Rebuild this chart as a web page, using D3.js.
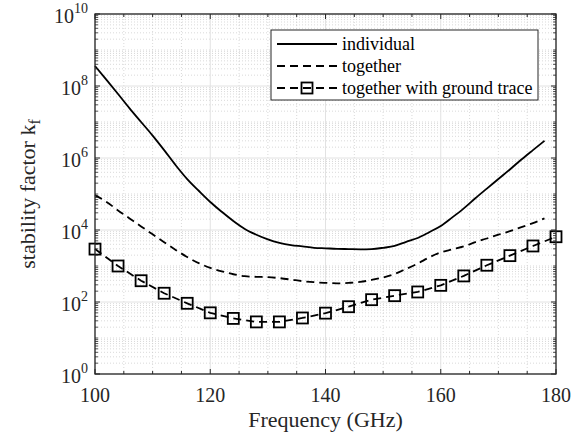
<!DOCTYPE html>
<html>
<head>
<meta charset="utf-8">
<script src="https://cdn.jsdelivr.net/npm/d3@7"></script>
<style>
  body { margin: 0; background: #fff; }
</style>
</head>
<body>
<div id="chart"></div>
<script>
// frequency grid of the two curves (GHz)
const freq = [100, 102, 104, 106, 108, 110, 112, 114, 116, 118, 120, 122, 124, 126, 128, 130, 132, 134, 136, 138,
              140, 142, 144, 146, 148, 150, 152, 154, 156, 158, 160, 162, 164, 166, 168, 170, 172, 174, 176, 178];
// stability factor, each element alone
const individual = [3.6e8, 1.48e8, 6.0e7, 2.4e7, 1.0e7, 4.2e6, 1.66e6, 6.3e5, 2.6e5, 1.23e5, 6.0e4, 3.2e4, 1.78e4, 1.07e4, 7400, 5500, 4400, 3800, 3500, 3200,
                    3100, 3000, 2950, 2900, 2950, 3200, 3600, 4700, 6000, 8700, 1.29e4, 2.24e4, 4.0e4, 7.6e4, 1.41e5, 2.6e5, 4.8e5, 9.1e5, 1.66e6, 3.0e6];
// stability factor, together
const together = [9.3e4, 6.0e4, 3.5e4, 2.1e4, 1.26e4, 7600, 4600, 2800, 1780, 1200, 890, 710, 590, 520, 500, 490, 460, 420, 380, 355,
                  340, 330, 340, 360, 410, 480, 600, 830, 1170, 1740, 2400, 2900, 3500, 4600, 5800, 7400, 9300, 1.2e4, 1.55e4, 2.1e4];
// together with ground trace (marker points)
const freqGT = [100, 104, 108, 112, 116, 120, 124, 128, 132, 136, 140, 144, 148, 152, 156, 160, 164, 168, 172, 176, 180];
const groundTrace = [2950, 1000, 390, 175, 92, 50, 35, 28, 28, 36, 49, 74, 116, 150, 190, 290, 530, 1050, 1940, 3600, 6500];

const xTicks = [100, 120, 140, 160, 180];
const yExp = [0, 2, 4, 6, 8, 10];
const legendNames = ["individual", "together", "together with ground trace"];

const width = 581, height = 436;
const marginTop = 14, marginRight = 25, marginBottom = 62, marginLeft = 95;
const axisCol = "#262626";
const serif = "'Liberation Serif'";

const svg = d3.select("#chart").append("svg")
    .attr("width", width)
    .attr("height", height)
    .attr("viewBox", [0, 0, width, height]);

const x = d3.scaleLinear([100, 180], [marginLeft, width - marginRight]);
const y = d3.scaleLog([1, 1e10], [height - marginBottom, marginTop]);

// minor ticks
const xMinor = d3.range(100, 181, 5).filter(v => xTicks.indexOf(v) < 0);
let yMinor = [];
for (let e = 0; e < 10; e++) {
    for (let m = 1; m < 10; m++) {
        if (m == 1 && e % 2 == 0) continue;
        yMinor.push(m * Math.pow(10, e));
    }
}

// grid
const grid = svg.append("g").attr("class", "grid");
grid.selectAll(".xmin").data(xMinor).join("line")
    .attr("x1", d => x(d)).attr("x2", d => x(d))
    .attr("y1", y(1)).attr("y2", y(1e10))
    .attr("stroke", "#c8c8c8").attr("stroke-width", 0.7)
    .attr("stroke-dasharray", "1,2");
grid.selectAll(".ymin").data(yMinor).join("line")
    .attr("x1", x(100)).attr("x2", x(180))
    .attr("y1", d => y(d)).attr("y2", d => y(d))
    .attr("stroke", "#c8c8c8").attr("stroke-width", 0.7)
    .attr("stroke-dasharray", "1,2");
grid.selectAll(".xmaj").data(xTicks).join("line")
    .attr("x1", d => x(d)).attr("x2", d => x(d))
    .attr("y1", y(1)).attr("y2", y(1e10))
    .attr("stroke", "#e2e2e2").attr("stroke-width", 1);
grid.selectAll(".ymaj").data(yExp).join("line")
    .attr("x1", x(100)).attr("x2", x(180))
    .attr("y1", d => y(Math.pow(10, d))).attr("y2", d => y(Math.pow(10, d)))
    .attr("stroke", "#e2e2e2").attr("stroke-width", 1);

// curves
const line = d3.line().x(d => x(d[0])).y(d => y(d[1])).curve(d3.curveMonotoneX);
svg.append("path")
    .datum(d3.zip(freq, individual))
    .attr("d", line)
    .attr("fill", "none").attr("stroke", "#000").attr("stroke-width", 1.8);
svg.append("path")
    .datum(d3.zip(freq, together))
    .attr("d", line)
    .attr("fill", "none").attr("stroke", "#000").attr("stroke-width", 1.8)
    .attr("stroke-dasharray", "8,5");
svg.append("path")
    .datum(d3.zip(freqGT, groundTrace))
    .attr("d", d3.line().x(d => x(d[0])).y(d => y(d[1])))
    .attr("fill", "none").attr("stroke", "#000").attr("stroke-width", 1.8)
    .attr("stroke-dasharray", "8,5");
const ms = 11;
svg.append("g").selectAll("rect").data(d3.zip(freqGT, groundTrace)).join("rect")
    .attr("x", d => x(d[0]) - ms / 2)
    .attr("y", d => y(d[1]) - ms / 2)
    .attr("width", ms).attr("height", ms)
    .attr("fill", "none").attr("stroke", "#000").attr("stroke-width", 1.8);

// axes box + ticks (MATLAB style, inward, both sides)
const ax = svg.append("g").attr("stroke", axisCol).attr("fill", "none");
ax.append("rect")
    .attr("x", x(100)).attr("y", y(1e10))
    .attr("width", x(180) - x(100)).attr("height", y(1) - y(1e10))
    .attr("stroke-width", 1.3);
[y(1), y(1e10)].forEach((yy, i) => {
    const s = i == 0 ? -1 : 1;
    ax.selectAll(null).data(xTicks).join("line")
        .attr("x1", d => x(d)).attr("x2", d => x(d))
        .attr("y1", yy).attr("y2", yy + s * 5);
    ax.selectAll(null).data(xMinor).join("line")
        .attr("x1", d => x(d)).attr("x2", d => x(d))
        .attr("y1", yy).attr("y2", yy + s * 3);
});
[x(100), x(180)].forEach((xx, i) => {
    const s = i == 0 ? 1 : -1;
    ax.selectAll(null).data(yExp).join("line")
        .attr("x1", xx).attr("x2", xx + s * 5)
        .attr("y1", d => y(Math.pow(10, d))).attr("y2", d => y(Math.pow(10, d)));
    ax.selectAll(null).data(yMinor).join("line")
        .attr("x1", xx).attr("x2", xx + s * 3)
        .attr("y1", d => y(d)).attr("y2", d => y(d))
        .attr("stroke-width", 0.8);
});

// tick labels
svg.append("g").selectAll("text").data(xTicks).join("text")
    .attr("x", d => x(d)).attr("y", height - marginBottom + 28)
    .attr("text-anchor", "middle")
    .style("font-family", serif)
    .attr("font-size", 20).attr("fill", axisCol)
    .text(d => d);
const yl = svg.append("g").selectAll("text").data(yExp).join("text")
    .attr("x", marginLeft - 7).attr("y", d => y(Math.pow(10, d)) + 9)
    .attr("text-anchor", "end")
    .style("font-family", serif)
    .attr("font-size", 20).attr("fill", axisCol);
yl.append("tspan").text("10");
yl.append("tspan").attr("dy", -10).attr("font-size", 14).text(d => d);

// axis labels
svg.append("text")
    .attr("x", (x(100) + x(180)) / 2).attr("y", height - 9)
    .attr("text-anchor", "middle").attr("font-size", 22).attr("fill", axisCol)
    .style("font-family", serif)
    .text("Frequency (GHz)");
const ylab = svg.append("text")
    .attr("transform", `translate(35,${(y(1) + y(1e10)) / 2}) rotate(-90)`)
    .attr("text-anchor", "middle").attr("font-size", 22).attr("fill", axisCol)
    .style("font-family", serif);
ylab.append("tspan").text("stability factor k");
ylab.append("tspan").attr("dy", 5).attr("font-size", 16).text("f");

// legend
const lg = svg.append("g").attr("transform", "translate(271,30)");
lg.append("rect")
    .attr("width", 267).attr("height", 70)
    .attr("fill", "#fff").attr("stroke", axisCol).attr("stroke-width", 1);
const dash = [null, "8,5", "8,5"];
legendNames.forEach((name, i) => {
    const ly = 14 + i * 22;
    lg.append("line")
        .attr("x1", 6).attr("x2", 66).attr("y1", ly).attr("y2", ly)
        .attr("stroke", "#000").attr("stroke-width", 1.8)
        .attr("stroke-dasharray", dash[i]);
    if (i == 2) {
        lg.append("rect")
            .attr("x", 36 - ms / 2).attr("y", ly - ms / 2)
            .attr("width", ms).attr("height", ms)
            .attr("fill", "none").attr("stroke", "#000").attr("stroke-width", 1.8);
    }
    lg.append("text")
        .attr("x", 71).attr("y", ly + 6)
        .style("font-family", serif)
        .attr("font-size", 18).attr("fill", "#000")
        .text(name);
});
</script>
</body>
</html>
